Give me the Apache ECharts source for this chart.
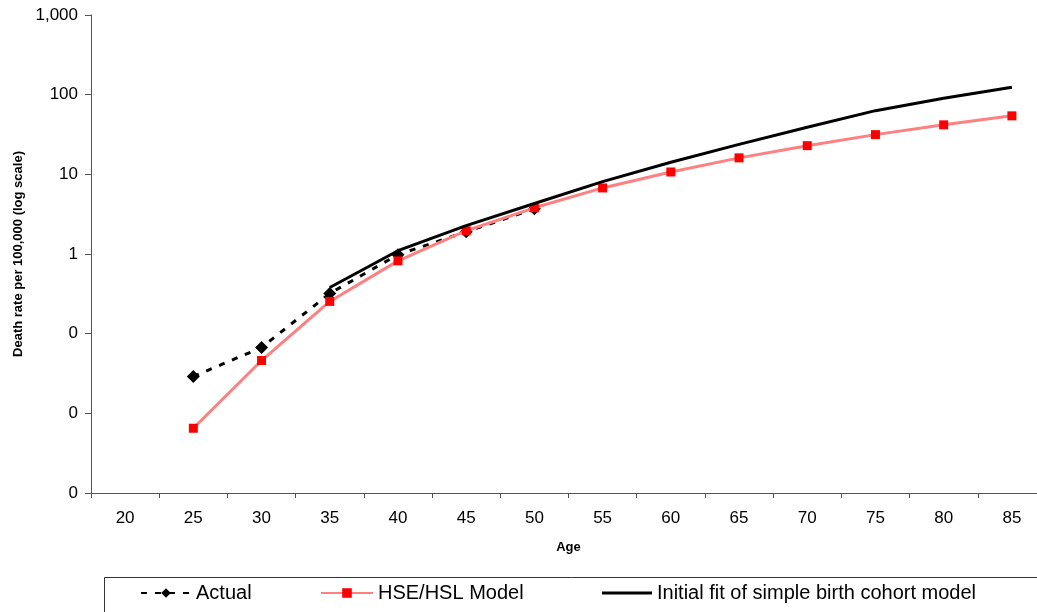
<!DOCTYPE html>
<html>
<head>
<meta charset="utf-8">
<title>Death rate by age</title>
<script src="https://cdn.jsdelivr.net/npm/echarts@6/dist/echarts.min.js"></script>
<style>
  html, body { margin: 0; padding: 0; background: #fff; }
  #chart { width: 1037px; height: 612px; }
</style>
</head>
<body>
<div id="chart"></div>
<script>
// Age groups along the x axis
const ages = ['20', '25', '30', '35', '40', '45', '50', '55', '60', '65', '70', '75', '80', '85'];

// Death rate per 100,000 (log scale)
const actual = [null, 0.029, 0.067, 0.32, 0.98, 1.9, 3.7, null, null, null, null, null, null, null];
const hseModel = [null, 0.0065, 0.046, 0.254, 0.82, 1.96, 3.8, 6.75, 10.7, 16.1, 22.9, 31.5, 41.8, 54.2];
const cohortFit = [null, null, null, 0.38, 1.1, 2.27, 4.3, 8.1, 14.2, 23.8, 39, 63, 90, 124];

const seriesNames = ['Actual', 'HSE/HSL Model', 'Initial fit of simple birth cohort model'];

const FONT = '"Liberation Sans", Arial, sans-serif';
const AXIS_COLOR = '#555';

const chart = echarts.init(document.getElementById('chart'), null, { renderer: 'canvas' });

function legendAt(item, left, width, height) {
  return {
    data: [item],
    left: left,
    top: 583,
    itemWidth: width,
    itemHeight: height,
    padding: 0,
    textStyle: { fontFamily: FONT, fontSize: 20, color: '#000' },
    selectedMode: false
  };
}

chart.setOption({
  animation: false,
  backgroundColor: '#fff',
  textStyle: { fontFamily: FONT },
  // the plot area runs a little past the right edge of the canvas
  grid: { left: 91, top: 15, width: 955, height: 478, outerBoundsMode: 'none', containLabel: false },
  legend: [
    legendAt(seriesNames[0], 140, 50, 12),
    legendAt(seriesNames[1], 320, 52, 12),
    legendAt({ name: seriesNames[2], icon: 'rect' }, 602, 50, 3)
  ],
  graphic: [{
    type: 'rect',
    shape: { x: 104.5, y: 577.5, width: 1000, height: 60 },
    style: { fill: 'none', stroke: '#333', lineWidth: 1 },
    z: -1
  }],
  xAxis: {
    type: 'category',
    data: ages,
    boundaryGap: true,
    name: 'Age',
    nameLocation: 'middle',
    nameGap: 48,
    nameTextStyle: { fontFamily: FONT, fontSize: 13, fontWeight: 'bold', color: '#000' },
    axisLine: { lineStyle: { color: AXIS_COLOR, width: 1 } },
    axisTick: { show: true, length: 5, inside: false, alignWithLabel: false, lineStyle: { color: AXIS_COLOR } },
    axisLabel: { fontFamily: FONT, fontSize: 17, color: '#000', margin: 17, interval: 0 },
    splitLine: { show: false }
  },
  yAxis: {
    type: 'log',
    logBase: 10,
    min: 0.001,
    max: 1000,
    splitNumber: 6,
    name: 'Death rate per 100,000 (log scale)',
    nameLocation: 'middle',
    nameRotate: 90,
    nameGap: 66,
    nameTextStyle: { fontFamily: FONT, fontSize: 13, fontWeight: 'bold', color: '#000' },
    axisLine: { show: true, lineStyle: { color: AXIS_COLOR, width: 1 } },
    axisTick: { show: true, length: 6, lineStyle: { color: AXIS_COLOR } },
    axisLabel: {
      fontFamily: FONT, fontSize: 17, color: '#000', margin: 13,
      formatter: function (v) {
        if (v < 0.999) return '0';
        return Math.round(v).toLocaleString('en-US');
      }
    },
    splitLine: { show: false }
  },
  series: [
    {
      name: seriesNames[0],
      type: 'line',
      data: actual,
      symbol: 'diamond',
      symbolSize: 13,
      itemStyle: { color: '#000' },
      lineStyle: { color: '#000', width: 3, type: [6, 8] },
      connectNulls: false,
      z: 2
    },
    {
      name: seriesNames[1],
      type: 'line',
      data: hseModel,
      symbol: 'rect',
      symbolSize: 9,
      itemStyle: { color: '#ff0000' },
      lineStyle: { color: '#ff8080', width: 3 },
      z: 3
    },
    {
      name: seriesNames[2],
      type: 'line',
      data: cohortFit,
      symbol: 'none',
      showSymbol: false,
      itemStyle: { color: '#000' },
      lineStyle: { color: '#000', width: 3 },
      z: 4
    }
  ]
});
</script>
</body>
</html>
